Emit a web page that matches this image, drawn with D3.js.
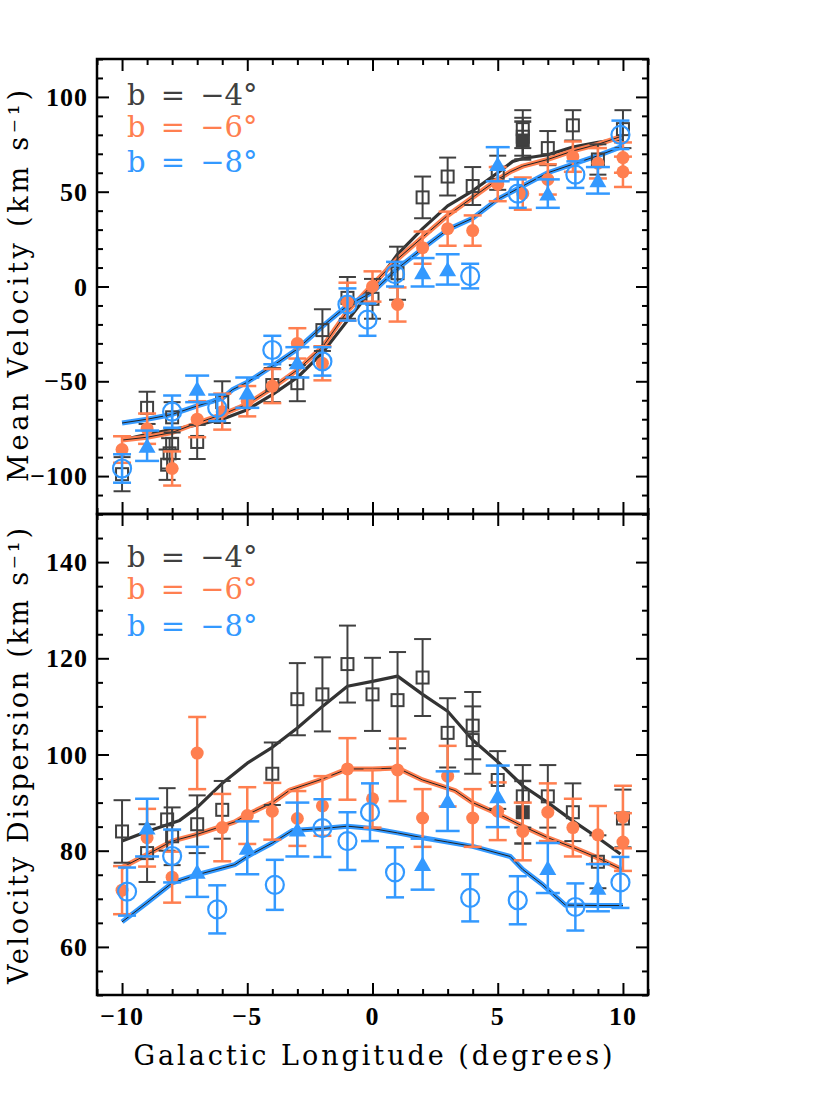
<!DOCTYPE html>
<html>
<head>
<meta charset="utf-8">
<script src="https://cdn.jsdelivr.net/npm/d3@7"></script>
<style>
  body { margin: 0; background: #fff; }
  svg { display: block; }
  .frame { fill: none; stroke: #000; stroke-width: 2.5; }
  .tick line { stroke: #000; stroke-width: 2; }
  .tickLabel { font-family: "Liberation Serif", serif; font-weight: bold; font-size: 26px; letter-spacing: 1px; fill: #000; }
  .axisTitle { font-family: "DejaVu Serif", serif; font-size: 27px; fill: #000; }
  .legendText { font-family: "DejaVu Serif", serif; font-size: 29px; word-spacing: 6px; }
</style>
</head>
<body>
<div id="chart"></div>
<script>
// ---- data ----
var lonTicks = [-10, -5, 0, 5, 10];
var meanTicks = [-100, -50, 0, 50, 100];
var dispTicks = [60, 80, 100, 120, 140];
var legendLabels = ["b = \u22124\u00b0", "b = \u22126\u00b0", "b = \u22128\u00b0"];

// points are [longitude, value, error]
var meanSquares = [[-10,-99,9],[-9,-64,8.5],[-8.2,-94,8],[-8.1,-88,8],[-8,-83,8],[-8,-69,8],[-7,-82,9],
    [-6,-61,11],[-4,-52,9],[-3,-51,9.5],[-2,-23,11],[-1,-6,11],[0,-6.5,10.5],[1,7,14],[2,47,11],
    [3,58,10],[4,53,10],[5,60,9],[6,83,10],[6,79,10],[7,73,9],[8,85,8],[9,67,8],[10,83,10]];
var meanSquaresFilled = [[6,77,10]];
var meanDots = [[-10,-86,7],[-9,-75,8],[-8,-96,9],[-7,-70,9.5],[-6,-66,9.5],[-5,-60.5,8],[-4,-52.5,9],
    [-3,-30,8],[-2,-40.5,9],[-1,-8,10],[0,0,8],[1,-9.5,9],[2,20.5,8.5],[3,30.5,9],[4,29.5,8],
    [5,54,9],[6,49,8.5],[7,56.5,8],[8,68.5,8],[9,65,8],[10,68,8],[10,60.5,8]];
var meanTriangles = [[-9,-84,8],[-7,-54,7],[-5,-56,8],[-3,-40,8],[2,7.5,7.5],[3,9,8],[5,64.5,9],[7,49,7.5],[9,56,7]];
var meanCircles = [[-10,-96,7.5],[-8,-66,8.5],[-6.2,-64,7],[-4,-33.5,7.5],[-2,-39.5,7.5],[-1,-9.5,8.5],
    [-0.2,-17.5,8.5],[0.9,6.5,6.5],[3.9,5.5,6.5],[5.8,49,7.5],[8.1,59,7],[9.9,80,7.5]];

// model curves are [longitude, value]
var meanModel4 = [[-10,-81],[-9,-78],[-8,-75.5],[-7,-73],[-6,-70],[-5,-65],[-4,-57],[-3,-48],[-2,-35],
    [-1,-18],[0,-1],[1,17],[2,30.5],[3,42.5],[4,50.5],[5,60],[5.6,66],[6,67.5],[7,69.5],[8,73.5],[9,76],[10,78]];
var meanModel6 = [[-10,-81],[-9,-79.5],[-8,-77],[-7,-72],[-6,-67.5],[-5,-62],[-4,-53.5],[-3,-44],[-2,-32],
    [-1,-13],[0,1],[1,14.5],[2,26],[3,37.5],[4,47],[5,56.5],[5.5,60.5],[6,63.5],[7,67],[8,71.5],[9,75],[10,79.5]];
var meanModel8 = [[-10,-72],[-9,-70],[-8,-67.5],[-7,-63],[-6,-59],[-5.6,-54.5],[-5,-50.5],[-4,-42],[-3,-33],
    [-2,-21],[-1,-10],[0,-3],[1,9.5],[2,20],[3,30],[4,36],[5,46],[6,53],[7,60],[8,64.5],[9,69],[10,74]];

var dispSquares = [[-10,84,6.5],[-9,79.5,6],[-8.2,86.5,6.5],[-8,83,6],[-7,85.5,6],[-6,88.5,6],[-4,96,6.5],
    [-3,111.5,7.5],[-2,112.5,7.7],[-1,118.8,8],[0,112.5,7.6],[1,111.3,10],[2,116,8],[3,104.5,7.2],
    [4,106,7],[4,103,7],[5,94.7,6],[6,91.3,6.5],[7,91.3,6.5],[8,88,6],[9,77.7,5.5],[10,86.7,6]];
var dispSquaresFilled = [[6,88,6.5]];
var dispDots = [[-10,71.8,5],[-9,82.7,6],[-8,74.5,5.3],[-7,100.3,7.5],[-6,84.8,7],[-5,87.3,5.9],[-4,88.2,5.9],
    [-3,86.7,5.7],[-2,89.3,6.2],[-1,97,6.4],[0,90.8,6],[1,96.8,6.5],[2,86.8,6],[3,95.5,6.3],[4,86.8,6],
    [5,88.2,6],[6,84,6],[7,88,6],[8,84.8,6],[9,83.3,6],[10,87,6.5],[10,81.8,6]];
var dispTriangles = [[-9,84.8,6],[-7,75.6,5.2],[-5,80.6,5.5],[-3,84.4,5.6],[2,77.2,5.3],[3,90.3,6.2],
    [5,91.3,6.4],[7,76.4,5.2],[9,72.3,4.9]];
var dispCircles = [[-9.8,71.5,5],[-8,78.9,5.5],[-6.2,67.8,5],[-3.9,72.9,5.2],[-2,84.7,6],[-1,82,6],
    [-0.1,88,6],[0.9,75.5,5.2],[3.9,70.2,4.9],[5.8,69.7,5],[8.1,68.3,4.9],[9.9,73.4,5.3]];

var dispModel4 = [[-10,82],[-9,84],[-7.7,86.3],[-7,89],[-6,94],[-5,98.2],[-4,101.5],[-3,105.5],[-2,110],
    [-1,114.2],[0,115.2],[1,116.3],[2,112.5],[3,109],[4,103],[5,98.5],[5.5,96],[6,93.5],[7,90],[8,86.2],[9,82.7],[9.9,79.3]];
var dispModel6 = [[-10,76.5],[-9,79.2],[-8,82],[-7,83.4],[-6,85.1],[-5.5,86],[-5,87.5],[-4,90],[-3.3,92.6],
    [-2,94.9],[-1,97],[0,97],[1,97.2],[2,94.7],[3.3,92.5],[4,90],[5,87.7],[6,85.1],[7,82.7],[8,80.7],[9,78.5],[10,76]];
var dispModel8 = [[-10,65.2],[-9,69.2],[-8,73.3],[-7,75],[-6,76.4],[-5.5,77.1],[-5,78.8],[-4,81.6],[-3.2,84.2],
    [-2,84.6],[-1,85.1],[0,84.6],[1,83.7],[2,82.7],[3,81.8],[4,80.9],[5.5,78.8],[6,76.1],[6.8,72.9],[7.7,68.7],[9,68.6],[10,68.6]];

var colors = {b4: "#404040", b6: "#ff7f50", b8: "#3399ff"};

/**
 * One panel of the figure (shares the longitude axis)
 */
function VelocityPanel(svg, opts){
    var self = this;
    self.svg = svg;
    self.opts = opts;
    self.init();
};

VelocityPanel.prototype.init = function(){
    var self = this;
    var o = self.opts;
    self.x = d3.scaleLinear().domain([-11, 11]).range([97, 648]);
    self.y = d3.scaleLinear().domain(o.yDomain).range([o.bottom, o.top]);
    self.g = self.svg.append("g");
};

VelocityPanel.prototype.drawAxes = function(){
    var self = this;
    var o = self.opts;
    var x = self.x, y = self.y;
    var minorX = d3.range(-11, 12, 1).filter(function(d){ return d % 5 != 0; });
    var minorY = d3.range(o.yDomain[0], o.yDomain[1] + 0.001, o.yMinor).filter(function(d){ return o.yTicks.indexOf(d) < 0; });

    // inward ticks on all four sides: [axis, values, size, transform]
    var sides = [
        [d3.axisBottom(x), lonTicks, -12, "translate(0," + o.bottom + ")"],
        [d3.axisBottom(x), minorX, -6, "translate(0," + o.bottom + ")"],
        [d3.axisTop(x), lonTicks, -12, "translate(0," + o.top + ")"],
        [d3.axisTop(x), minorX, -6, "translate(0," + o.top + ")"],
        [d3.axisLeft(y), o.yTicks, -12, "translate(97,0)"],
        [d3.axisLeft(y), minorY, -6, "translate(97,0)"],
        [d3.axisRight(y), o.yTicks, -12, "translate(648,0)"],
        [d3.axisRight(y), minorY, -6, "translate(648,0)"]
    ];
    sides.forEach(function(s){
        var ag = self.g.append("g").attr("transform", s[3])
            .call(s[0].tickValues(s[1]).tickSize(s[2]).tickSizeOuter(0).tickFormat(""));
        ag.select(".domain").remove();
    });

    self.g.append("rect").attr("class", "frame")
        .attr("x", 97).attr("y", o.top)
        .attr("width", 648 - 97).attr("height", o.bottom - o.top);

    self.g.selectAll("text.ylab").data(o.yTicks).enter().append("text")
        .attr("class", "tickLabel ylab")
        .attr("x", 88)
        .attr("y", function(d){ return y(d) + 9; })
        .attr("text-anchor", "end")
        .text(function(d){ return d3.format("d")(d); });

    if(o.xLabels){
        self.g.selectAll("text.xlab").data(lonTicks).enter().append("text")
            .attr("class", "tickLabel xlab")
            .attr("x", function(d){ return x(d); })
            .attr("y", o.bottom + 30)
            .attr("text-anchor", "middle")
            .text(function(d){ return d3.format("d")(d); });
    }

    self.g.append("text").attr("class", "axisTitle")
        .attr("transform", "translate(28," + o.titleY + ") rotate(-90)")
        .attr("text-anchor", "middle")
        .attr("textLength", o.titleLen)
        .attr("lengthAdjust", "spacing")
        .text(o.title);

    // legend
    var keys = ["b4", "b6", "b8"];
    self.g.selectAll("text.legendText").data(legendLabels).enter().append("text")
        .attr("class", "legendText")
        .attr("x", 127)
        .attr("y", function(d, i){ return o.legendY[i]; })
        .attr("fill", function(d, i){ return colors[keys[i]]; })
        .text(function(d){ return d; });
};

VelocityPanel.prototype.drawModel = function(points, color, core){
    var self = this;
    var line = d3.line().x(function(d){ return self.x(d[0]); }).y(function(d){ return self.y(d[1]); });
    self.g.append("path").datum(points).attr("d", line)
        .attr("fill", "none").attr("stroke", color)
        .attr("stroke-width", core ? 5 : 3.2).attr("stroke-linejoin", "round");
    if(core){
        self.g.append("path").datum(points).attr("d", line)
            .attr("fill", "none").attr("stroke", "#222").attr("stroke-width", 1);
    }
};

VelocityPanel.prototype.drawPoints = function(points, color, shape, capW){
    var self = this;
    var x = self.x, y = self.y;
    var grp = self.g.append("g");

    var bars = grp.selectAll("g.err").data(points).enter().append("g")
        .attr("stroke", color).attr("stroke-width", shape == "square" ? 2 : 2.5);
    bars.append("line")
        .attr("x1", function(d){ return x(d[0]); }).attr("x2", function(d){ return x(d[0]); })
        .attr("y1", function(d){ return y(d[1] - d[2]); }).attr("y2", function(d){ return y(d[1] + d[2]); });
    [1, -1].forEach(function(s){
        bars.append("line")
            .attr("x1", function(d){ return x(d[0]) - capW / 2; }).attr("x2", function(d){ return x(d[0]) + capW / 2; })
            .attr("y1", function(d){ return y(d[1] + s * d[2]); }).attr("y2", function(d){ return y(d[1] + s * d[2]); });
    });

    if(shape == "square" || shape == "squareFilled"){
        grp.selectAll("rect.m").data(points).enter().append("rect")
            .attr("x", function(d){ return x(d[0]) - 6; }).attr("y", function(d){ return y(d[1]) - 6; })
            .attr("width", 12).attr("height", 12)
            .attr("fill", shape == "squareFilled" ? color : "none")
            .attr("stroke", color).attr("stroke-width", 2);
    }
    else if(shape == "dot"){
        grp.selectAll("circle.m").data(points).enter().append("circle")
            .attr("cx", function(d){ return x(d[0]); }).attr("cy", function(d){ return y(d[1]); })
            .attr("r", 6.5).attr("fill", color);
    }
    else if(shape == "circle"){
        grp.selectAll("circle.m").data(points).enter().append("circle")
            .attr("cx", function(d){ return x(d[0]); }).attr("cy", function(d){ return y(d[1]); })
            .attr("r", 9).attr("fill", "none").attr("stroke", color).attr("stroke-width", 2.2);
    }
    else if(shape == "triangle"){
        grp.selectAll("path.m").data(points).enter().append("path")
            .attr("transform", function(d){ return "translate(" + x(d[0]) + "," + (y(d[1]) + 2) + ")"; })
            .attr("d", d3.symbol().type(d3.symbolTriangle).size(125))
            .attr("fill", color);
    }
};

var svg = d3.select("#chart").append("svg").attr("width", 830).attr("height", 1106);

var meanPanel = new VelocityPanel(svg, {
    top: 59, bottom: 514, yDomain: [-120, 120], yTicks: meanTicks, yMinor: 10,
    title: "Mean Velocity (km s\u207b\u00b9)", titleY: 286, titleLen: 392,
    legendY: [105, 137, 172], xLabels: false
});
var dispPanel = new VelocityPanel(svg, {
    top: 514, bottom: 995, yDomain: [50, 150], yTicks: dispTicks, yMinor: 5,
    title: "Velocity Dispersion (km s\u207b\u00b9)", titleY: 756, titleLen: 456,
    legendY: [567, 599, 636], xLabels: true
});

[[meanPanel, meanModel4, meanModel6, meanModel8, meanSquares, meanSquaresFilled, meanDots, meanTriangles, meanCircles],
 [dispPanel, dispModel4, dispModel6, dispModel8, dispSquares, dispSquaresFilled, dispDots, dispTriangles, dispCircles]]
.forEach(function(p){
    var panel = p[0];
    panel.drawModel(p[1], "#333", false);
    panel.drawModel(p[2], colors.b6, true);
    panel.drawModel(p[3], colors.b8, true);
    panel.drawPoints(p[4], colors.b4, "square", 17);
    panel.drawPoints(p[5], colors.b4, "squareFilled", 17);
    panel.drawPoints(p[6], colors.b6, "dot", 18);
    panel.drawPoints(p[7], colors.b8, "triangle", 24);
    panel.drawPoints(p[8], colors.b8, "circle", 18);
    panel.drawAxes();
});

svg.append("text").attr("class", "axisTitle")
    .attr("x", 373).attr("y", 1065)
    .attr("text-anchor", "middle")
    .attr("textLength", 479).attr("lengthAdjust", "spacing")
    .text("Galactic Longitude (degrees)");
</script>
</body>
</html>
